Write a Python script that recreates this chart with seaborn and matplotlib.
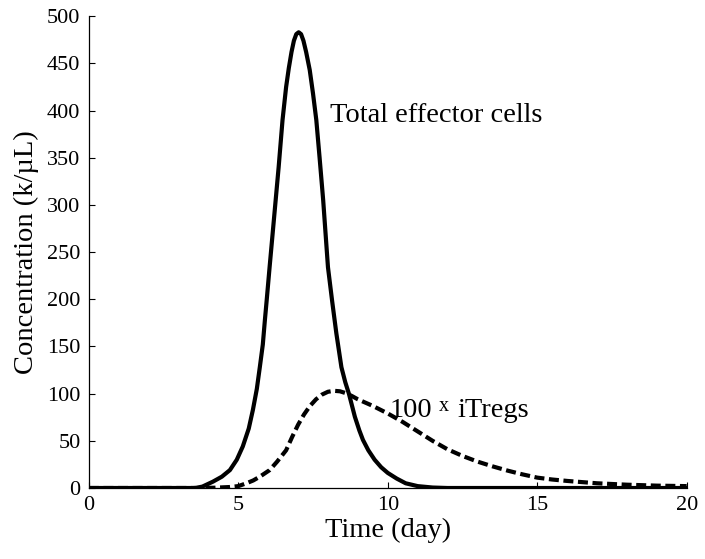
import numpy as np
import pandas as pd
import matplotlib
matplotlib.use("Agg")
import matplotlib.pyplot as plt
import seaborn as sns

# values
effector_day = [0, 3.5, 3.6, 3.8, 4.15, 4.45, 4.72, 4.95, 5.15, 5.35, 5.49, 5.62, 5.72,
                5.82, 5.89, 5.95, 6.05, 6.19, 6.35, 6.48, 6.6, 6.69, 6.78, 6.86, 6.94,
                7.02, 7.1, 7.18, 7.27, 7.39, 7.5, 7.61, 7.72, 7.84, 8.0, 8.14, 8.28,
                8.45, 8.58, 8.7, 8.9, 9.05, 9.17, 9.35, 9.56, 9.78, 10.0, 10.3, 10.6,
                11.0, 11.5, 12, 15, 20]
effector_val = [0, 0, 0.2, 1.5, 6.7, 12, 19, 30, 44, 63, 83, 105, 128,
                152, 178, 199, 235, 284, 340, 390, 425, 445, 462, 474, 481,
                483, 481, 474, 462, 443, 418, 390, 350, 305, 234, 198, 164,
                128, 112, 100, 75.5, 61, 51, 40, 30, 22, 16, 10, 5,
                2, 0.5, 0, 0, 0]

itreg_day = [0, 3.6, 4.2, 4.7, 5.0, 5.27, 5.5, 5.72, 6.05, 6.3, 6.6, 6.8, 7.0, 7.2,
             7.4, 7.6, 7.8, 8.0, 8.2, 8.4, 8.6, 8.8, 9.0, 9.5, 10.0, 10.5, 11.0,
             11.5, 12.0, 12.5, 13.0, 13.5, 14.0, 14.5, 15.0, 15.5, 16.0, 17.0,
             18.0, 19.0, 20.0]
itreg_val = [0, 0, 0.3, 1, 2, 5, 8, 12, 19, 28, 40, 54, 67, 78,
             87, 94, 99, 102, 103, 102.5, 100.5, 97.5, 94, 87, 79, 70, 60,
             50, 41, 34, 28, 23, 18.5, 14.5, 11, 9, 7.5, 5,
             3.5, 2.5, 2]

effector = pd.DataFrame({"day": effector_day, "conc": effector_val})
itregs = pd.DataFrame({"day": itreg_day, "conc": itreg_val})

sns.set_style("ticks")
plt.rcParams["font.family"] = ["Liberation Serif", "DejaVu Serif"]
plt.rcParams["text.color"] = "black"
plt.rcParams["axes.labelcolor"] = "black"

fig = plt.figure(figsize=(7.05, 5.59), dpi=100)
ax = fig.add_axes([0.126, 0.127, 0.848, 0.844])

sns.lineplot(data=effector, x="day", y="conc", color="black", lw=3, ax=ax,
             sort=False)
sns.lineplot(data=itregs, x="day", y="conc", color="black", lw=3, ax=ax,
             sort=False, linestyle=(0, (2.4, 1.1)))

ax.set_xlim(0, 20)
ax.set_ylim(0, 500)
ax.set_xticks([0, 5, 10, 15, 20])
ax.set_yticks(np.arange(0, 501, 50))
ax.tick_params(direction="in", length=4, width=0.8, colors="black",
               labelsize=16, pad=6)
for s in ["top", "right"]:
    ax.spines[s].set_visible(False)
for s in ["left", "bottom"]:
    ax.spines[s].set_linewidth(0.9)
    ax.spines[s].set_color("black")

ax.set_xlabel("Time (day)", fontsize=20.5, labelpad=2)
ax.set_ylabel("Concentration (k/\u00b5L)", fontsize=20.5, labelpad=6)

ax.text(8.06, 388, "Total effector cells", fontsize=20.5, va="baseline")
ax.text(10.07, 75.5, "100", fontsize=20.5, va="baseline")
ax.text(11.7, 82, "x", fontsize=14.5, va="baseline")
ax.text(12.34, 75.5, "iTregs", fontsize=20.5, va="baseline")

fig.savefig("out.png", dpi=100)
